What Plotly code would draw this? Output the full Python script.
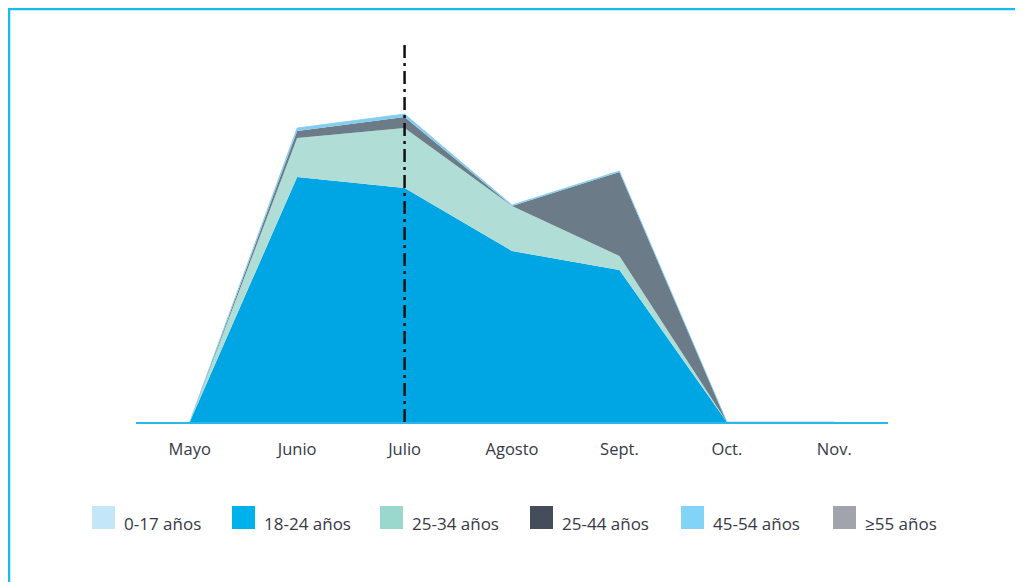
import plotly.graph_objects as go

# Data
months = ["Mayo", "Junio", "Julio", "Agosto", "Sept.", "Oct.", "Nov."]
age_0_17 = [0, 0, 0, 0, 0, 0, 0]
age_18_24 = [0, 245, 234, 171, 152, 0, 0]
age_25_34 = [0, 39, 60, 45, 14, 0, 0]
age_25_44 = [0, 7, 11, 0, 84, 0, 0]
age_45_54 = [0, 3, 3, 1, 1, 0, 0]
age_55 = [0, 0, 0, 0, 0, 0, 0]

series = [
    ("0-17 años", age_0_17, "#c3e6f8", "#c3e6f8"),
    ("18-24 años", age_18_24, "#00a5e3", "#00b2ec"),
    ("25-34 años", age_25_34, "#b0ddd5", "#9ad7cc"),
    ("25-44 años", age_25_44, "#6b7b87", "#454c5a"),
    ("45-54 años", age_45_54, "#82cdf0", "#82d4f7"),
    ("≥55 años", age_55, "#a1a3ad", "#a1a3ad"),
]

# legend square positions (page pixels)
legend_x = [92, 232, 380, 530, 681, 833]

TEXT = "#363846"
OFF = 8  # default body margin of the html page
W, H = 1023 - OFF, 582 - OFF
L, R, T, B = 136 - OFF, W - (888 - OFF), 40 - OFF, H - (422 - OFF)
pw, ph = W - L - R, H - T - B


def px(x):
    return (x - OFF - L) / pw


def py(y):
    return (H - B - (y - OFF)) / ph


fig = go.Figure()
for name, vals, fill, _ in series:
    fig.add_trace(go.Scatter(
        x=months, y=vals, name=name, stackgroup="one", mode="lines",
        line=dict(width=0.8 if name == "45-54 años" else 0, color=fill),
        fillcolor=fill, showlegend=False, hoverinfo="x+y+name"))

frame = dict(color="#14bdf0", width=2.5)
shapes = [
    # vertical dash-dot marker at Julio
    dict(type="line", xref="x", yref="y", x0="Julio", x1="Julio", y0=0, y1=380,
         line=dict(color="#111111", width=2.5, dash="13px,5px,3px,5px")),
    # frame (left, top, right)
    dict(type="line", xref="paper", yref="paper", x0=px(9), x1=px(9), y0=py(9), y1=py(600), line=frame),
    dict(type="line", xref="paper", yref="paper", x0=px(8), x1=px(1021), y0=py(9), y1=py(9), line=frame),
    dict(type="line", xref="paper", yref="paper", x0=px(1021), x1=px(1021), y0=py(9), y1=py(600), line=frame),
]

annotations = []
for (name, _, _, lc), lx in zip(series, legend_x):
    shapes.append(dict(type="rect", xref="paper", yref="paper",
                       x0=px(lx), x1=px(lx + 23), y0=py(529), y1=py(506),
                       fillcolor=lc, line=dict(width=0)))
    annotations.append(dict(xref="paper", yref="paper", x=px(lx + 30), y=py(523),
                            text=name, showarrow=False, xanchor="left", yanchor="middle",
                            font=dict(size=17, color=TEXT)))

fig.update_layout(
    width=W, height=H,
    margin=dict(l=L, r=R, t=T, b=B),
    plot_bgcolor="white", paper_bgcolor="white",
    font=dict(family="Open Sans, sans-serif", color=TEXT),
    showlegend=False,
    shapes=shapes, annotations=annotations,
    xaxis=dict(type="category", range=[-0.5, 6.5], showgrid=False, zeroline=False,
               showline=True, linecolor="#29b6e8", linewidth=2,
               ticks="", ticklabelstandoff=11, tickfont=dict(size=16.5, color=TEXT)),
    yaxis=dict(range=[0, ph], visible=False, fixedrange=True),
)

fig.write_html("out.html")
